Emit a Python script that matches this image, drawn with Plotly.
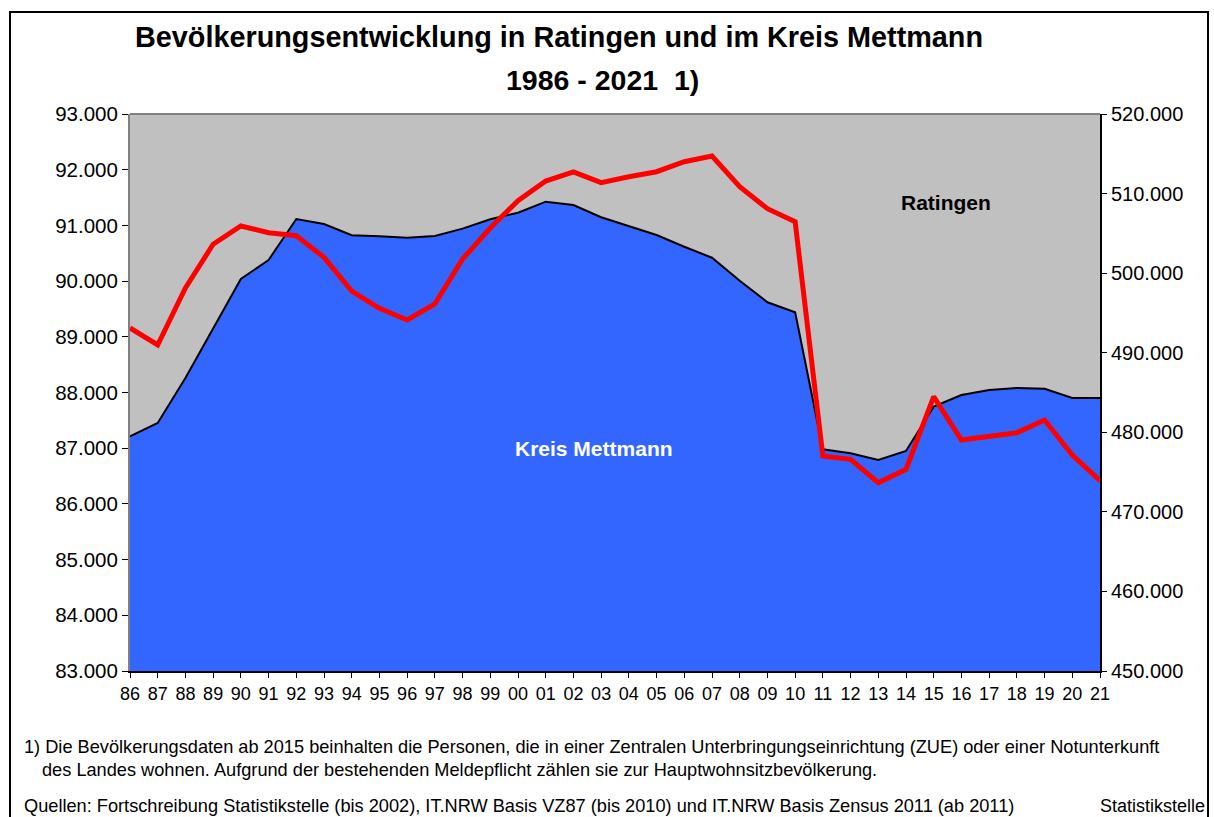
import plotly.graph_objects as go

years = ["86","87","88","89","90","91","92","93","94","95","96","97","98","99",
         "00","01","02","03","04","05","06","07","08","09","10","11","12","13",
         "14","15","16","17","18","19","20","21"]

kreis_mettmann = [479500, 481170, 486820, 492980, 499260, 501650, 506800, 506180,
                  504760, 504630, 504450, 504670, 505590, 506770, 507600, 508980,
                  508560, 507020, 505920, 504790, 503320, 501940, 499050, 496340,
                  495080, 477860, 477360, 476520, 477650, 483220, 484690, 485310,
                  485570, 485480, 484310, 484310]

ratingen = [89158, 88853, 89876, 90661, 90989, 90869, 90815, 90427, 89822, 89512,
            89302, 89589, 90397, 90953, 91443, 91797, 91959, 91767, 91874, 91964,
            92144, 92246, 91695, 91300, 91066, 86860, 86801, 86381, 86621, 87925,
            87147, 87207, 87278, 87506, 86878, 86417]

left_ticks = list(range(83000, 93001, 1000))
right_ticks = list(range(450000, 520001, 10000))

title1 = "Bevölkerungsentwicklung in Ratingen und im Kreis Mettmann"
title2 = "1986 - 2021  1)"
foot1 = "1) Die Bevölkerungsdaten ab 2015 beinhalten die Personen, die in einer Zentralen Unterbringungseinrichtung (ZUE) oder einer Notunterkunft"
foot2 = "des Landes wohnen. Aufgrund der bestehenden Meldepflicht zählen sie zur Hauptwohnsitzbevölkerung."
source = "Quellen: Fortschreibung Statistikstelle (bis 2002), IT.NRW Basis VZ87 (bis 2010) und IT.NRW Basis Zensus 2011 (ab 2011)"
source_r = "Statistikstelle"

FONT = "Liberation Sans, Arial, sans-serif"

fig = go.Figure()
fig.add_trace(go.Scatter(
    x=years, y=kreis_mettmann, mode="lines", fill="tozeroy",
    fillcolor="#3366FF", line=dict(color="black", width=2),
    yaxis="y", name="Kreis Mettmann", hoverinfo="x+y"))
fig.add_trace(go.Scatter(
    x=years, y=ratingen, mode="lines",
    line=dict(color="#FF0000", width=5),
    yaxis="y2", name="Ratingen", hoverinfo="x+y"))

fig.update_layout(
    width=1214, height=817,
    margin=dict(l=130, r=114, t=114, b=146),
    paper_bgcolor="white", plot_bgcolor="#C0C0C0",
    separators=",.",
    showlegend=False,
    font=dict(family=FONT, color="black", size=18),
    xaxis=dict(type="category", range=[0, 35], showgrid=False, zeroline=False,
               showline=True, linecolor="black", linewidth=2,
               ticks="outside", ticklen=5, tickcolor="black",
               tickfont=dict(size=18), fixedrange=True),
    yaxis=dict(side="right", range=[450000, 520000], tickvals=right_ticks,
               tickformat=",d", showgrid=False, zeroline=False,
               showline=True, linecolor="black", linewidth=2,
               ticks="outside", ticklen=5, tickcolor="black",
               tickfont=dict(size=20)),
    yaxis2=dict(side="left", overlaying="y", range=[83000, 93000], tickvals=left_ticks,
                tickformat=",d", showgrid=False, zeroline=False,
                showline=True, linecolor="#808080", linewidth=2,
                ticks="outside", ticklen=6, tickcolor="black",
                tickfont=dict(size=20.5)),
)

# top border of plot area and outer frame
fig.add_shape(type="line", xref="paper", yref="paper", x0=0, x1=1, y0=1, y1=1,
              line=dict(color="#808080", width=2))
fig.add_shape(type="rect", xref="paper", yref="paper",
              x0=(10 - 130) / 970, x1=(1208 - 130) / 970,
              y0=-0.35, y1=1 + (114 - 12) / 557,
              line=dict(color="black", width=2), fillcolor="rgba(0,0,0,0)", layer="below")

def px_x(px):
    return (px - 130) / 970

def px_y(py):
    return 1 - (py - 114) / 557

anns = [
    dict(text="<b>" + title1 + "</b>", x=px_x(559), y=px_y(37), xanchor="center", yanchor="middle", font=dict(size=28.8)),
    dict(text="<b>" + title2 + "</b>", x=px_x(602), y=px_y(80), xanchor="center", yanchor="middle", font=dict(size=28.5)),
    dict(text="<b>Ratingen</b>", x=px_x(946), y=px_y(202), xanchor="center", yanchor="middle", font=dict(size=21)),
    dict(text="<b>Kreis Mettmann</b>", x=px_x(594), y=px_y(448), xanchor="center", yanchor="middle", font=dict(size=21, color="white")),
    dict(text=foot1, x=px_x(22), y=px_y(747), xanchor="left", yanchor="middle", font=dict(size=18.2)),
    dict(text=foot2, x=px_x(40), y=px_y(770), xanchor="left", yanchor="middle", font=dict(size=18.2)),
    dict(text=source, x=px_x(22), y=px_y(806), xanchor="left", yanchor="middle", font=dict(size=18.2)),
    dict(text=source_r, x=px_x(1207), y=px_y(806), xanchor="right", yanchor="middle", font=dict(size=18)),
]
for a in anns:
    a.update(xref="paper", yref="paper", showarrow=False)
fig.update_layout(annotations=anns)

fig.write_html("out.html", config={"displayModeBar": False},
               post_script="document.body.style.margin='0px';document.body.style.overflow='hidden';")
